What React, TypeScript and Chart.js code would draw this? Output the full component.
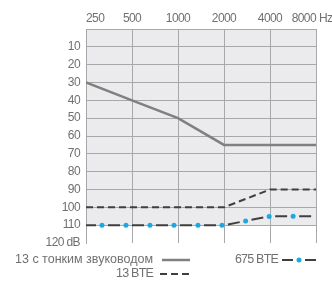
import React, { useEffect, useRef } from 'react';
import { Chart, registerables } from 'chart.js';

Chart.register(...registerables);

// ---- data ----
const frequencyLabels = ['250', '500', '1000', '2000', '4000', '8000'];
const frequencyUnit = 'Hz';
const thinTubeValues = [30, 40, 50, 65, 65, 65];
const bte13Values = [100, 100, 100, 100, 90, 90];
const bte675Values = [110, 110, 110, 110, 105, 105];
const dbTickValues = [0, 10, 20, 30, 40, 50, 60, 70, 80, 90, 100, 110, 120];
const dbTickLabels = ['', '10', '20', '30', '40', '50', '60', '70', '80', '90', '100', '110', '120 dB'];
const seriesNames = ['13 с тонким звуководом', '13 BTE', '675 BTE'];

const FONT = '"Liberation Sans", Arial, sans-serif';
const TEXT = '#707070';
const GRID = '#a8a8a8';
const BG = '#ebebed';
const SOLID = '#808080';
const DARK = '#3f3f3f';
const BLUE = '#1ea8e2';

const toPoints = (vals: number[]) => vals.map((v, i) => ({ x: i, y: v }));

const bgPlugin = {
  id: 'bgFill',
  beforeDraw(chart: any) {
    const { ctx, chartArea, scales } = chart;
    const yb = scales.y.getPixelForValue(110);
    ctx.save();
    ctx.fillStyle = BG;
    ctx.fillRect(chartArea.left, chartArea.top, chartArea.right - chartArea.left, yb - chartArea.top);
    ctx.restore();
    ctx.letterSpacing = '-0.6px';
  },
};

const extrasPlugin = {
  id: 'extras',
  afterDraw(chart: any) {
    const { ctx, chartArea, scales } = chart;
    ctx.save();
    ctx.letterSpacing = '-0.6px';
    ctx.font = `12px ${FONT}`;
    ctx.fillStyle = TEXT;
    // unit after last frequency label
    ctx.textAlign = 'left';
    ctx.textBaseline = 'middle';
    ctx.fillText(frequencyUnit, scales.x.right + 3, scales.x.bottom - 10);

    // legend
    const r1 = chartArea.bottom + 17;
    const r2 = chartArea.bottom + 31;
    const c1 = chartArea.left + 67;
    const c2 = chartArea.right - 38;
    ctx.textAlign = 'right';
    ctx.font = `12.5px ${FONT}`;
    ctx.letterSpacing = '0px';
    ctx.fillText(seriesNames[0], c1, r1);
    ctx.letterSpacing = '-0.8px';
    ctx.fillText(seriesNames[1], c1, r2);
    ctx.fillText(seriesNames[2], c2, r1);

    ctx.lineCap = 'butt';
    // solid
    ctx.strokeStyle = SOLID;
    ctx.lineWidth = 2.5;
    ctx.setLineDash([]);
    ctx.beginPath();
    ctx.moveTo(c1 + 9, r1);
    ctx.lineTo(c1 + 37, r1);
    ctx.stroke();
    // dashed
    ctx.strokeStyle = DARK;
    ctx.lineWidth = 2;
    ctx.setLineDash([7, 4]);
    ctx.beginPath();
    ctx.moveTo(c1 + 7, r2);
    ctx.lineTo(c1 + 37, r2);
    ctx.stroke();
    // dash dot dash
    ctx.setLineDash([]);
    ctx.beginPath();
    ctx.moveTo(c2 + 4, r1);
    ctx.lineTo(c2 + 15, r1);
    ctx.moveTo(c2 + 27, r1);
    ctx.lineTo(c2 + 38, r1);
    ctx.stroke();
    ctx.fillStyle = BLUE;
    ctx.beginPath();
    ctx.arc(c2 + 21, r1, 2.5, 0, Math.PI * 2);
    ctx.fill();
    ctx.restore();
    ctx.letterSpacing = '0px';
  },
};

export default function App() {
  const ref = useRef<HTMLCanvasElement>(null);
  useEffect(() => {
    if (!ref.current) return;
    const chart = new Chart(ref.current, {
      type: 'line',
      data: {
        datasets: [
          {
            label: seriesNames[0],
            data: toPoints(thinTubeValues),
            borderColor: SOLID,
            borderWidth: 2.5,
            pointRadius: 0,
            tension: 0,
          },
          {
            label: seriesNames[1],
            data: toPoints(bte13Values),
            borderColor: DARK,
            borderWidth: 2,
            borderDash: [7, 4],
            pointRadius: 0,
            tension: 0,
          },
          {
            label: seriesNames[2],
            data: toPoints(bte675Values),
            borderColor: DARK,
            borderWidth: 2,
            borderDash: [12, 12],
            borderDashOffset: 2,
            pointRadius: 0,
            tension: 0,
          },
          {
            label: seriesNames[2] + ' dots',
            data: toPoints(bte675Values),
            borderColor: BLUE,
            borderWidth: 5,
            borderDash: [0, 24],
            borderDashOffset: 8,
            borderCapStyle: 'round',
            pointRadius: 0,
            tension: 0,
          },
        ],
      },
      options: {
        responsive: false,
        animation: false,
        devicePixelRatio: 1,
        layout: { padding: { left: 0, right: 16, top: 0, bottom: 38 } },
        plugins: { legend: { display: false }, tooltip: { enabled: false } },
        scales: {
          x: {
            type: 'linear',
            position: 'top',
            min: 0,
            max: frequencyLabels.length - 1,
            afterFit: (s: any) => { s.height = 29; },
            afterBuildTicks: (s: any) => { s.ticks = frequencyLabels.map((_, i) => ({ value: i })); },
            ticks: {
              align: 'inner',
              maxRotation: 0,
              autoSkip: false,
              padding: 3,
              color: TEXT,
              font: { family: FONT, size: 12 },
              callback: (v: any) => frequencyLabels[v] ?? '',
            },
            grid: { color: GRID, lineWidth: 1, drawTicks: false },
            border: { display: true, color: GRID },
          },
          y: {
            type: 'linear',
            reverse: true,
            min: 0,
            max: 120,
            afterFit: (s: any) => { s.width = 86; },
            afterBuildTicks: (s: any) => { s.ticks = dbTickValues.map((v) => ({ value: v })); },
            ticks: {
              autoSkip: false,
              padding: 6,
              color: TEXT,
              font: { family: FONT, size: 12 },
              callback: (v: any) => dbTickLabels[dbTickValues.indexOf(Number(v))] ?? '',
            },
            grid: {
              color: (c: any) => (c.tick && c.tick.value === 120 ? 'rgba(0,0,0,0)' : GRID),
              lineWidth: 1,
              drawTicks: false,
            },
            border: { display: true, color: GRID },
          },
        },
      },
      plugins: [bgPlugin, extrasPlugin],
    } as any);
    return () => chart.destroy();
  }, []);
  return (
    <div style={{ position: 'absolute', left: 0, top: 0, width: 332, height: 281, background: '#fff' }}>
      <canvas ref={ref} width={332} height={281} style={{ display: 'block', width: 332, height: 281 }} />
    </div>
  );
}
